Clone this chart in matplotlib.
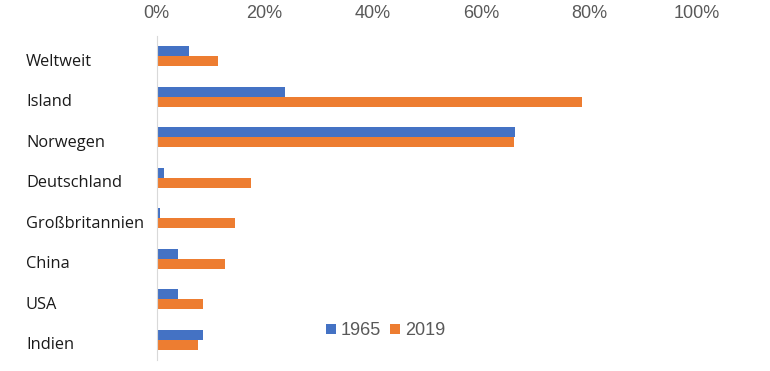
import matplotlib.pyplot as plt
from matplotlib.ticker import PercentFormatter
from matplotlib.transforms import ScaledTranslation

countries = ['Weltweit', 'Island', 'Norwegen', 'Deutschland', 'Großbritannien', 'China', 'USA', 'Indien']
share_1965 = [6.0, 23.8, 66.3, 1.4, 0.65, 3.9, 3.9, 8.6]
share_2019 = [11.4, 78.8, 66.1, 17.5, 14.5, 12.7, 8.6, 7.7]
ticks = [0, 20, 40, 60, 80, 100]

colors = ['#4472C4', '#ED7D31']

fig = plt.figure(figsize=(7.7, 3.71), dpi=100)
ax = fig.add_axes([156.5/770, 11/371, 540.5/770, 324/371])

pos = list(range(len(countries)))
h = 0.25
ax.barh([p - h/2 for p in pos], share_1965, height=h, color=colors[0], label='1965')
ax.barh([p + h/2 for p in pos], share_2019, height=h, color=colors[1], label='2019')

ax.set_ylim(len(countries) - 0.5, -0.5)
ax.set_xlim(0, 100)
ax.set_xticks(ticks)
ax.xaxis.set_major_formatter(PercentFormatter(decimals=0))
ax.xaxis.tick_top()
ax.tick_params(axis='x', length=0, pad=10, labelsize=13, labelcolor='#595959')
for t in ax.get_xticklabels():
    t.set_fontfamily('Liberation Sans')

ax.set_yticks(pos)
ax.set_yticklabels(countries, ha='left', fontsize=11.8, fontfamily='Open Sans', color='#1a1a1a')
ax.tick_params(axis='y', length=0, pad=94)
# labels sit a little below the bar pair centre in the original
shift = ScaledTranslation(0, -3.5/100, fig.dpi_scale_trans)
for t in ax.get_yticklabels():
    t.set_transform(t.get_transform() + shift)

for s in ['top', 'right', 'bottom']:
    ax.spines[s].set_visible(False)
ax.spines['left'].set_color('#d9d9d9')

ax.legend(loc='center', bbox_to_anchor=(0.424, 0.09), ncol=2, frameon=False,
          handlelength=0.55, handleheight=0.55, handletextpad=0.25, columnspacing=0.5,
          prop={'family': 'Liberation Sans', 'size': 13}, labelcolor='#595959')

plt.savefig('out.png', dpi=100)
